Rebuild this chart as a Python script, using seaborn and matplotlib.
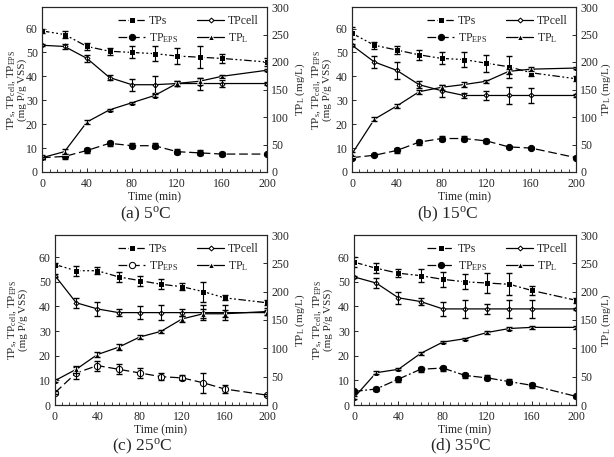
import numpy as np
import matplotlib
matplotlib.use("Agg")
import matplotlib.pyplot as plt
import seaborn as sns
from matplotlib.ticker import AutoMinorLocator, MultipleLocator

sns.set_style("ticks")
plt.rcParams['font.family'] = ['Liberation Serif', 'DejaVu Serif']
plt.rcParams['mathtext.fontset'] = 'custom'
plt.rcParams['mathtext.rm'] = 'Liberation Serif'
plt.rcParams['mathtext.it'] = 'Liberation Serif:italic'

# time points (min)
time = [0, 20, 40, 60, 80, 100, 120, 140, 160, 200]

# ---- (a) 5 C ----
a_tps = [59, 57.5, 52.5, 50.5, 50, 49.5, 48.5, 48, 47.5, 46]
a_tps_err = [1, 1.5, 1.5, 1.5, 2.5, 3, 3.5, 4.5, 2, 1.5]
a_cell = [53, 52.5, 47.5, 39.5, 36.5, 36.5, 37, 37, 37, 37]
a_cell_err = [0.5, 1, 1.5, 1, 2.5, 3.5, 1, 2.5, 1.5, 0.5]
a_eps = [6, 6.5, 9, 12, 11, 11, 8.5, 8, 7.5, 7.5]
a_eps_err = [1, 1, 1, 1, 1, 1, 1, 1, 1, 0.5]
a_tpl = [26, 37, 91, 113, 126, 139, 161, 165, 174, 185]
a_tpl_err = [2, 4, 3, 2, 2, 2, 5, 6, 3, 2]

# ---- (b) 15 C ----
b_tps = [58, 53, 51, 49, 47.5, 47, 45.5, 44, 41.5, 39]
b_tps_err = [2.5, 1.5, 1.5, 2, 2.5, 3, 3.5, 4.5, 1.5, 1]
b_cell = [53, 46, 42.5, 36.5, 34, 32, 32, 32, 32, 32]
b_cell_err = [0.5, 2.5, 3.5, 1.5, 2.5, 1, 2, 3.5, 3, 0.5]
b_eps = [6, 7, 9, 12.5, 14, 14, 13, 10.5, 10, 6]
b_eps_err = [0.5, 0.5, 1, 1, 1, 1, 1, 0.5, 0.5, 0.5]
b_tpl = [33, 96, 120, 146, 154, 159, 165, 183, 187, 189]
b_tpl_err = [3, 4, 3, 4, 4, 5, 3, 4, 4, 2]

# ---- (c) 25 C ----
c_tps = [57, 54.5, 54.5, 52, 50.5, 49, 48, 46, 43.5, 41.5]
c_tps_err = [0.5, 2, 1.5, 2, 2, 2, 1.5, 4, 1, 1]
c_cell = [52.5, 41.5, 39, 37.5, 37.5, 37.5, 37.5, 37.5, 37.5, 37.5]
c_cell_err = [0.5, 2, 3, 1.5, 2.5, 3, 1.5, 3, 3, 1]
c_eps = [5, 13, 16, 14.5, 13, 11.5, 11, 9, 6.5, 4]
c_eps_err = [0.5, 2.5, 2, 2, 2, 1.5, 1, 4, 1.5, 0.5]
c_tpl = [43, 63, 89, 102, 120, 130, 152, 161, 161, 165]
c_tpl_err = [3, 6, 5, 5, 4, 3, 5, 8, 6, 6]

# ---- (d) 35 C ----
d_tps = [58, 55.5, 53.5, 52.5, 51, 50, 49.5, 49, 46.5, 42.5]
d_tps_err = [2, 2, 1.5, 2.5, 3, 3, 4, 4.5, 2, 1]
d_cell = [52, 49.5, 43.5, 42, 39, 39, 39, 39, 39, 39]
d_cell_err = [0.5, 2, 2.5, 1.5, 3, 3.5, 2, 3.5, 3.5, 0.5]
d_eps = [5.5, 6.5, 10.5, 14.5, 15, 12, 11, 9.5, 8, 3.5]
d_eps_err = [0.5, 1, 1, 1, 1, 1, 1, 1, 1, 0.5]
d_tpl = [13, 57, 63, 91, 111, 117, 128, 135, 137, 137]
d_tpl_err = [3, 3, 2, 3, 2, 2, 2, 2, 2, 2]

captions = ["(a) 5$^{\\mathrm{o}}$C", "(b) 15$^{\\mathrm{o}}$C",
            "(c) 25$^{\\mathrm{o}}$C", "(d) 35$^{\\mathrm{o}}$C"]

panels = [
    (a_tps, a_tps_err, a_cell, a_cell_err, a_eps, a_eps_err, a_tpl, a_tpl_err),
    (b_tps, b_tps_err, b_cell, b_cell_err, b_eps, b_eps_err, b_tpl, b_tpl_err),
    (c_tps, c_tps_err, c_cell, c_cell_err, c_eps, c_eps_err, c_tpl, c_tpl_err),
    (d_tps, d_tps_err, d_cell, d_cell_err, d_eps, d_eps_err, d_tpl, d_tpl_err),
]

# axes rectangles in pixels: left, top, right, bottom
boxes = [(42, 7, 267, 172), (352, 7, 576, 172),
         (55, 235, 267, 405), (354, 235, 576, 405)]
cap_pos = [(146, 214), (448, 214), (142, 446), (461, 446)]
ylab_x = [27, 332, 28, 333]   # right edge of the two-line left label
rpad = [3, 1, 3, 1]

W, H = 614, 457
fig = plt.figure(figsize=(W / 100, H / 100), dpi=100)

FS = 8.5
LFS = 8
for i, (data, box, cap) in enumerate(zip(panels, boxes, captions)):
    tps, tps_e, cell, cell_e, eps, eps_e, tpl, tpl_e = data
    l, t, r, b = box
    ax = fig.add_axes([l / W, 1 - b / H, (r - l) / W, (b - t) / H])
    ax2 = ax.twinx()

    if i == 3:
        ls_tps = (0, (7, 2, 1.5, 2))
        ls_eps = (0, (7, 2, 1.5, 2))
    else:
        ls_tps = (0, (6, 2, 1.5, 2, 1.5, 2))
        ls_eps = (0, (7, 3))
    eps_face = 'white' if i == 2 else 'black'

    sns.lineplot(x=time, y=tps, ax=ax, color='k', lw=0.9, linestyle=ls_tps,
                 marker='s', markersize=5, label='TPs')
    sns.lineplot(x=time, y=eps, ax=ax, color='k', lw=0.9, linestyle=ls_eps,
                 marker='o', markersize=4.5, markerfacecolor=eps_face,
                 markeredgecolor='k', label='TP$_{\\mathrm{EPS}}$')
    sns.lineplot(x=time, y=cell, ax=ax, color='k', lw=0.9, linestyle='-',
                 marker='D', markersize=2.5, markerfacecolor='white',
                 markeredgecolor='k', label='TPcell')
    sns.lineplot(x=time, y=tpl, ax=ax2, color='k', lw=0.9, linestyle='-',
                 marker='^', markersize=4.5, label='TP$_{\\mathrm{L}}$')

    ax.errorbar(time, tps, yerr=tps_e, fmt='none', ecolor='k', elinewidth=0.8, capsize=2.5)
    ax.errorbar(time, eps, yerr=eps_e, fmt='none', ecolor='k', elinewidth=0.8, capsize=2.5)
    ax.errorbar(time, cell, yerr=cell_e, fmt='none', ecolor='k', elinewidth=0.8, capsize=2.5)
    ax2.errorbar(time, tpl, yerr=tpl_e, fmt='none', ecolor='k', elinewidth=0.8, capsize=2.5)

    ax.set_xlim(0, 200)
    ax.set_ylim(0, 69)
    ax2.set_ylim(0, 300)
    ax.xaxis.set_major_locator(MultipleLocator(40))
    ax.xaxis.set_minor_locator(AutoMinorLocator(6))
    ax.yaxis.set_major_locator(MultipleLocator(10))
    ax2.yaxis.set_major_locator(MultipleLocator(50))
    ax.tick_params(direction='in', labelsize=FS, length=3, width=0.7, pad=3)
    ax.tick_params(axis='x', pad=4.5)
    ax.tick_params(which='minor', direction='in', length=2, width=0.6)
    ax2.tick_params(direction='in', labelsize=FS, length=3, width=0.7, pad=3)
    for s in ax.spines.values():
        s.set_linewidth(0.8)
    for s in ax2.spines.values():
        s.set_linewidth(0.8)

    ax.set_xlabel('Time (min)', fontsize=FS, labelpad=1)
    ax.set_ylabel('TP$_{\\mathrm{s}}$, TP$_{\\mathrm{cell}}$, TP$_{\\mathrm{EPS}}$\n(mg P/g VSS)',
                  fontsize=LFS, linespacing=0.9)
    ax.yaxis.set_label_coords((ylab_x[i] - l) / (r - l), 0.5)
    ax2.set_ylabel('TP$_{\\mathrm{L}}$ (mg/L)', fontsize=LFS, labelpad=rpad[i])

    h1, l1 = ax.get_legend_handles_labels()
    h2, l2 = ax2.get_legend_handles_labels()
    ax.get_legend().remove()
    ax2.get_legend().remove()
    handles = [h1[0], h1[1], h1[2], h2[0]]
    labels = [l1[0], l1[1], l1[2], l2[0]]
    ax2.legend(handles, labels, ncol=2, loc='upper right', frameon=False,
               fontsize=FS, handlelength=2.3, columnspacing=1.6,
               borderaxespad=0.3, handletextpad=0.3, labelspacing=0.35)

    fig.text(cap_pos[i][0] / W, 1 - cap_pos[i][1] / H, cap, ha='center',
             va='center', fontsize=12.5)

fig.savefig("out.png", dpi=100)
